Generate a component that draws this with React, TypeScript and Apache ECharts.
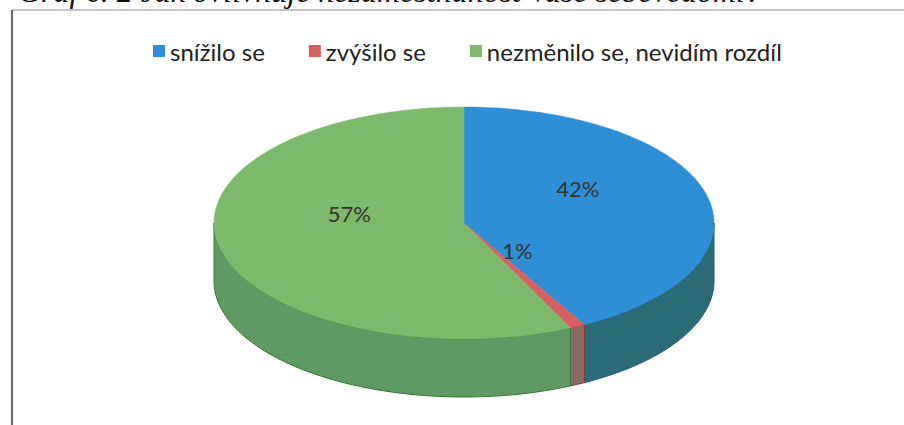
import React, { useEffect, useRef } from "react";
import * as echarts from "echarts";

const categories = ["snížilo se", "zvýšilo se", "nezměnilo se, nevidím rozdíl"];
const values = [42, 1, 57];
const topColors = ["#2e8ed6", "#d65f5f", "#7cb96a"];
const sideColors = ["#2c6b78", "#8a6a5e", "#5e9a62"];
const edgeColors = ["#1f5a8a", "#8a3a3a", "#2f7a2f"];
const caption = "Graf č. 2 Jak ovlivňuje nezaměstnanost Vaše sebevědomí?";

export default function App() {
  const ref = useRef<HTMLDivElement>(null);
  useEffect(() => {
    document.body.style.margin = "0";
    const chart = echarts.init(ref.current!, null, { renderer: "svg" });
    const total = values.reduce((a, b) => a + b, 0);
    const starts: number[] = [];
    let acc = 0;
    values.forEach((v) => {
      starts.push(acc);
      acc += v;
    });
    const cx = 464, cy = 223, rx = 250, ry = 116, depth = 58;
    const deg = (d: number) => (d * Math.PI) / 180;
    const pt = (a: number, dy: number): number[] => [
      cx + rx * Math.sin(deg(a)),
      cy - ry * Math.cos(deg(a)) + dy,
    ];
    const arc = (a0: number, a1: number, dy: number) => {
      const pts: number[][] = [];
      const n = Math.max(2, Math.ceil((a1 - a0) / 2));
      for (let i = 0; i <= n; i++) pts.push(pt(a0 + ((a1 - a0) * i) / n, dy));
      return pts;
    };

    const series = categories.map((name, idx) => ({
      type: "custom",
      name,
      coordinateSystem: "none",
      itemStyle: { color: topColors[idx] },
      data: [[values[idx]]],
      renderItem: (params: any, api: any) => {
        const v = api.value(0);
        const a0 = (starts[idx] / total) * 360;
        const a1 = a0 + (v / total) * 360;
        const children: any[] = [];
        const s = Math.max(a0, 90), e = Math.min(a1, 270);
        if (e > s) {
          const top = arc(s, e, 0);
          const bot = arc(s, e, depth).reverse();
          children.push({
            type: "polygon",
            shape: { points: top.concat(bot) },
            style: { fill: sideColors[idx], stroke: edgeColors[idx], lineWidth: 1 },
            z2: 1,
          });
        }
        children.push({
          type: "polygon",
          shape: { points: [[cx, cy]].concat(arc(a0, a1, 0)) },
          style: { fill: topColors[idx], stroke: topColors[idx], lineWidth: 0.5 },
          z2: 2,
        });
        const mid = (a0 + a1) / 2;
        const f = 0.47;
        children.push({
          type: "text",
          x: cx + rx * f * Math.sin(deg(mid)),
          y: cy - ry * f * Math.cos(deg(mid)) - 21,
          style: {
            text: Math.round((v / total) * 100) + "%",
            fill: "#333333",
            font: "22px Lato",
            align: "center",
            verticalAlign: "middle",
          },
          z2: 5,
        });
        return { type: "group", children };
      },
    }));

    chart.setOption({
      animation: false,
      backgroundColor: "#ffffff",
      legend: {
        data: categories,
        left: 148,
        top: 34,
        icon: "rect",
        itemWidth: 12,
        itemHeight: 12,
        itemGap: 44,
        textStyle: { fontFamily: "Lato", fontSize: 24, color: "#222222" },
      },
      graphic: [
        {
          type: "text",
          left: 18,
          top: -25,
          style: {
            text: caption,
            font: "italic 32px 'Liberation Serif'",
            fill: "#111111",
          },
        },
        {
          type: "line",
          shape: { x1: 12, y1: 10, x2: 904, y2: 10 },
          style: { stroke: "#8a8a8a", lineWidth: 1.2 },
        },
        {
          type: "line",
          shape: { x1: 12, y1: 10, x2: 12, y2: 425 },
          style: { stroke: "#333333", lineWidth: 1.5 },
        },
      ],
      series,
    });
    return () => chart.dispose();
  }, []);
  return <div ref={ref} style={{ width: 904, height: 425 }} />;
}
